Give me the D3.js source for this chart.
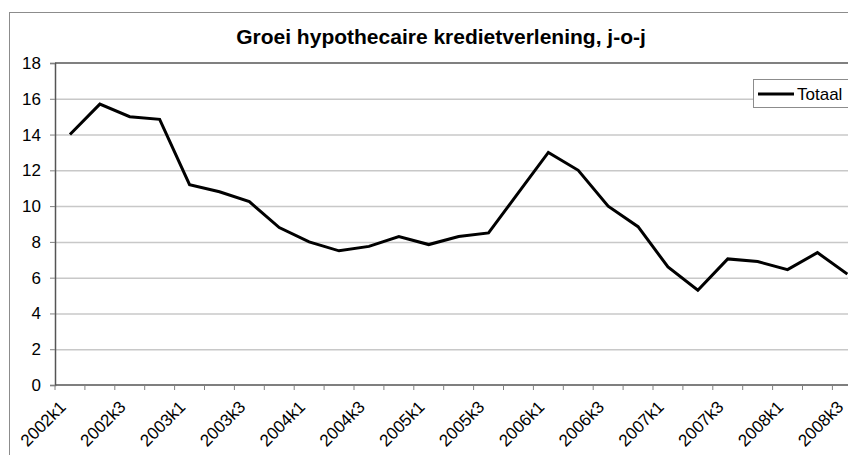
<!DOCTYPE html>
<html><head><meta charset="utf-8">
<script src="https://cdn.jsdelivr.net/npm/d3@7"></script>
<style>body{margin:0;background:#fff}svg{display:block;font-family:"Liberation Sans",Arial,sans-serif}</style>
</head><body><svg id="c" width="848" height="455"></svg>
<script>
const title = "Groei hypothecaire kredietverlening, j-o-j";
const categories = ["2002k1","2002k2","2002k3","2002k4","2003k1","2003k2","2003k3","2003k4",
  "2004k1","2004k2","2004k3","2004k4","2005k1","2005k2","2005k3","2005k4",
  "2006k1","2006k2","2006k3","2006k4","2007k1","2007k2","2007k3","2007k4",
  "2008k1","2008k2","2008k3"];
const totaal = [14.0,15.7,15.0,14.85,11.2,10.8,10.25,8.8,8.0,7.5,7.75,8.3,7.85,8.3,8.5,10.75,
  13.0,12.0,10.0,8.85,6.6,5.3,7.05,6.9,6.45,7.4,6.2];
const xTickLabels = ["2002k1","2002k3","2003k1","2003k3","2004k1","2004k3","2005k1","2005k3",
  "2006k1","2006k3","2007k1","2007k3","2008k1","2008k3"];
const yTicks = [0,2,4,6,8,10,12,14,16,18];
const seriesName = "Totaal";

(function () {
const svg = d3.select("#c");
const mLeft = 55, mTop = 63, mBottom = 385, step = 29.9;
const x = d3.scaleBand().domain(categories).range([mLeft, mLeft + step * categories.length]).padding(0);
const y = d3.scaleLinear().domain([0, 18]).range([mBottom, mTop]);
const mRight = mLeft + step * categories.length;

// outer chart border
svg.append("rect").attr("x", 9.5).attr("y", 12.5).attr("width", 900).attr("height", 500)
  .attr("fill", "none").attr("stroke", "#8c8c8c").attr("stroke-width", 1);

// title
svg.append("text").attr("x", 441).attr("y", 44).attr("text-anchor", "middle")
  .attr("font-weight", "bold").attr("font-size", 21).attr("fill", "#000").text(title);

// gridlines
const grid = svg.append("g").attr("transform", `translate(${mLeft},0)`)
  .call(d3.axisLeft(y).tickValues(yTicks.filter(v => v > 0 && v < 18)).tickSize(-(mRight - mLeft)).tickFormat(""));
grid.select(".domain").remove();
grid.selectAll("line").attr("stroke", "#c8c8c8").attr("stroke-width", 1.5);

// plot top border
svg.append("line").attr("x1", mLeft).attr("x2", mRight).attr("y1", y(18)).attr("y2", y(18))
  .attr("stroke", "#808080").attr("stroke-width", 2);

// y axis
const ya = svg.append("g").attr("transform", `translate(${mLeft},0)`)
  .call(d3.axisLeft(y).tickValues(yTicks).tickSize(5).tickPadding(9));
ya.select(".domain").attr("stroke", "#555").attr("stroke-width", 1.5);
ya.selectAll(".tick line").attr("stroke", "#808080");
ya.selectAll("text").attr("font-size", 17).attr("font-family", "Liberation Sans, Arial, sans-serif").attr("fill", "#000");

// x axis line
svg.append("line").attr("x1", mLeft).attr("x2", mRight).attr("y1", mBottom).attr("y2", mBottom)
  .attr("stroke", "#555").attr("stroke-width", 1.5);
// x tick marks at category boundaries
svg.append("g").selectAll("line").data(categories).join("line")
  .attr("x1", d => x(d)).attr("x2", d => x(d)).attr("y1", mBottom).attr("y2", mBottom + 5)
  .attr("stroke", "#808080");
// x labels
svg.append("g").selectAll("text").data(xTickLabels).join("text")
  .attr("text-anchor", "end").attr("font-size", 17).attr("fill", "#000")
  .attr("transform", d => `translate(${x(d) + x.bandwidth() / 2 - 3},${mBottom + 23}) rotate(-45)`)
  .text(d => d);

// line
const line = d3.line().x((d, i) => x(categories[i]) + x.bandwidth() / 2).y(d => y(d));
svg.append("path").datum(totaal).attr("d", line).attr("fill", "none")
  .attr("stroke", "#000").attr("stroke-width", 3).attr("stroke-linejoin", "miter");

// legend
const lg = svg.append("g");
lg.append("rect").attr("x", 753.5).attr("y", 79.5).attr("width", 120).attr("height", 28)
  .attr("fill", "#fff").attr("stroke", "#8c8c8c");
lg.append("line").attr("x1", 758).attr("x2", 794).attr("y1", 94).attr("y2", 94)
  .attr("stroke", "#000").attr("stroke-width", 3);
lg.append("text").attr("x", 797).attr("y", 100).attr("font-size", 17).attr("fill", "#000").text(seriesName);
})();
</script></body></html>
